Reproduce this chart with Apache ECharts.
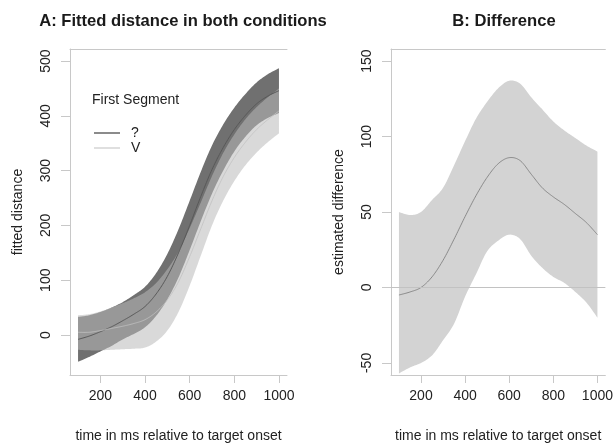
<!DOCTYPE html>
<html><head><meta charset="utf-8">
<script src="https://cdn.jsdelivr.net/npm/echarts@6/dist/echarts.min.js"></script>
<style>html,body{margin:0;padding:0;background:#fff}#c{width:616px;height:448px}</style>
</head><body><div id="c"></div>
<script>
// time points (ms relative to target onset)
const times = [100,150,200,250,300,350,400,450,500,550,600,650,700,750,800,850,900,950,1000];
// Panel A: condition "?"
const qMean  = [-8,-2,6,15,26,38,52,75,107,150,200,253,302,342,375,401,422,436,446];
const qUpper = [33,36,42,50,60,73,88,113,148,193,245,298,346,384,415,440,461,476,487];
const qLower = [-49,-40,-30,-20,-8,2,14,35,65,105,155,208,258,300,335,362,383,396,405];
// Panel A: condition "V"
const vMean  = [5,5,8,12,16,21,28,42,64,97,143,194,245,289,324,352,375,393,409];
const vUpper = [36,38,43,50,58,67,78,95,120,152,195,242,290,332,366,394,416,434,450];
const vLower = [-27,-28,-28,-27,-26,-25,-23,-12,8,42,90,145,200,245,281,310,333,352,368];
// Panel B: estimated difference
const dMean  = [-5,-3,0,7,18,32,47,61,73,82,86,84,75,66,60,55,49,43,35];
const dUpper = [50,48,50,58,66,81,97,112,123,132,137,135,126,118,110,104,99,94,90];
const dLower = [-57,-53,-50,-45,-35,-24,-6,9,24,31,35,32,21,13,7,3,-3,-10,-20];
// tick labels
const xTicks  = [200,400,600,800,1000];
const yTicksA = [0,100,200,300,400,500];
const yTicksB = [-50,0,50,100,150];

const FONT = 'Liberation Sans, Arial, sans-serif';
const AX = '#c8c8c8';
const pairs = (ys) => times.map((t,i)=>[t, ys[i]]);

// Catmull-Rom sampling of screen points (rendering only)
function spline(P) {
  const out = [];
  const n = P.length;
  for (let i = 0; i < n - 1; i++) {
    const p0 = P[Math.max(i-1,0)], p1 = P[i], p2 = P[i+1], p3 = P[Math.min(i+2,n-1)];
    for (let s = 0; s < 12; s++) {
      const t = s/12, t2 = t*t, t3 = t2*t;
      const f = (a,b,c,d) => 0.5*((2*b) + (-a+c)*t + (2*a-5*b+4*c-d)*t2 + (-a+3*b-3*c+d)*t3);
      out.push([f(p0[0],p1[0],p2[0],p3[0]), f(p0[1],p1[1],p2[1],p3[1])]);
    }
  }
  out.push(P[n-1]);
  return out;
}

function axisSet(grid, name) {
  return [{
    gridIndex: grid, type: 'value', min: 64, max: 1036, position: 'bottom',
    axisLine: {show: true, onZero: false, lineStyle: {color: AX, width: 1}},
    axisTick: {show: true, length: 8, customValues: xTicks, lineStyle: {color: AX}},
    axisLabel: {customValues: xTicks, margin: 14, fontSize: 14, color: '#222', fontFamily: FONT,
      formatter: v => String(v)},
    splitLine: {show: false},
    name: name, nameLocation: 'middle', nameGap: 54,
    nameTextStyle: {fontSize: 14, color: '#222', fontFamily: FONT}
  }, {
    gridIndex: grid, type: 'value', min: 64, max: 1036, position: 'top',
    axisLine: {show: true, onZero: false, lineStyle: {color: AX, width: 1}},
    axisTick: {show: false}, axisLabel: {show: false}, splitLine: {show: false}
  }];
}
function yAx(grid, min, max, ticks, name) {
  return {
    gridIndex: grid, type: 'value', min: min, max: max, position: 'left',
    axisLine: {show: true, onZero: false, lineStyle: {color: AX, width: 1}},
    axisTick: {show: true, length: 9, customValues: ticks, lineStyle: {color: AX}},
    axisLabel: {customValues: ticks, rotate: 90, margin: 17, fontSize: 14, color: '#222', fontFamily: FONT},
    splitLine: {show: false},
    name: name, nameLocation: 'middle', nameGap: 45,
    nameTextStyle: {fontSize: 14, color: '#222', fontFamily: FONT}
  };
}
function band(name, xi, yi, up, lo, color) {
  return {
    name: name, type: 'custom', xAxisIndex: xi, yAxisIndex: yi, silent: true,
    data: times.map((t,i)=>[t, lo[i], up[i]]),
    encode: {x: 0, y: [1, 2]},
    renderItem: function (params, api) {
      if (params.dataIndexInside !== 0) return null;
      const n = params.dataInsideLength;
      const U = [], L = [];
      for (let i = 0; i < n; i++) {
        U.push(api.coord([api.value(0, i), api.value(2, i)]));
        L.push(api.coord([api.value(0, i), api.value(1, i)]));
      }
      const pts = spline(U).concat(spline(L.reverse()));
      return {type: 'polygon', shape: {points: pts}, style: {fill: color, stroke: null}};
    }
  };
}
function meanLine(name, xi, yi, ys, color, w) {
  return {
    name: name, type: 'custom', xAxisIndex: xi, yAxisIndex: yi, silent: true,
    data: pairs(ys), encode: {x: 0, y: 1},
    itemStyle: {color: color},
    renderItem: function (params, api) {
      if (params.dataIndexInside !== 0) return null;
      const n = params.dataInsideLength;
      const P = [];
      for (let i = 0; i < n; i++) P.push(api.coord([api.value(0, i), api.value(1, i)]));
      return {type: 'polyline', shape: {points: spline(P)}, style: {stroke: color, lineWidth: w, fill: null}};
    }
  };
}

const chart = echarts.init(document.getElementById('c'), null, {renderer: 'canvas'});
chart.setOption({
  animation: false,
  backgroundColor: '#fff',
  textStyle: {fontFamily: FONT},
  title: [
    {text: 'A: Fitted distance in both conditions', left: 178, top: 8, textAlign: 'center',
     textStyle: {fontSize: 16.6, fontWeight: 'bold', color: '#1a1a1a', fontFamily: FONT}},
    {text: 'B: Difference', left: 499, top: 8, textAlign: 'center',
     textStyle: {fontSize: 16.6, fontWeight: 'bold', color: '#1a1a1a', fontFamily: FONT}},
    {text: 'First Segment', left: 87, top: 88,
     textStyle: {fontSize: 14, fontWeight: 'normal', color: '#222', fontFamily: FONT}}
  ],
  legend: {
    data: [
      {name: '?', icon: 'rect', itemStyle: {color: '#6e6e6e'}},
      {name: 'V', icon: 'rect', itemStyle: {color: '#d8d8d8'}}
    ],
    orient: 'vertical', left: 89, top: 121, itemGap: 1,
    itemWidth: 26, itemHeight: 1.6,
    textStyle: {fontSize: 14, color: '#222', fontFamily: FONT, padding: [0,0,0,6]}
  },
  grid: [
    {left: 70, right: 329, top: 49, bottom: 73},
    {left: 391, right: 9, top: 49, bottom: 73}
  ],
  xAxis: [].concat(axisSet(0, 'time in ms relative to target onset'), axisSet(1, 'time in ms relative to target onset')),
  yAxis: [
    yAx(0, -73, 522, yTicksA, 'fitted distance'),
    yAx(1, -58, 158, yTicksB, 'estimated difference')
  ],
  series: [
    band('q_band', 0, 0, qUpper, qLower, '#707070'),
    band('v_band', 0, 0, vUpper, vLower, 'rgba(185,185,185,0.55)'),
    meanLine('?', 0, 0, qMean, '#585858', 1),
    meanLine('V', 0, 0, vMean, '#c2c2c2', 0.8),
    band('d_band', 2, 1, dUpper, dLower, '#d3d3d3'),
    meanLine('diff', 2, 1, dMean, '#777777', 0.8),
    {
      name: 'zero', type: 'line', xAxisIndex: 2, yAxisIndex: 1, data: [], silent: true,
      markLine: {silent: true, symbol: 'none', label: {show: false}, animation: false,
        lineStyle: {color: '#c2c2c2', width: 1, type: 'solid'}, data: [{yAxis: 0}]}
    }
  ]
});
</script>
</body></html>
